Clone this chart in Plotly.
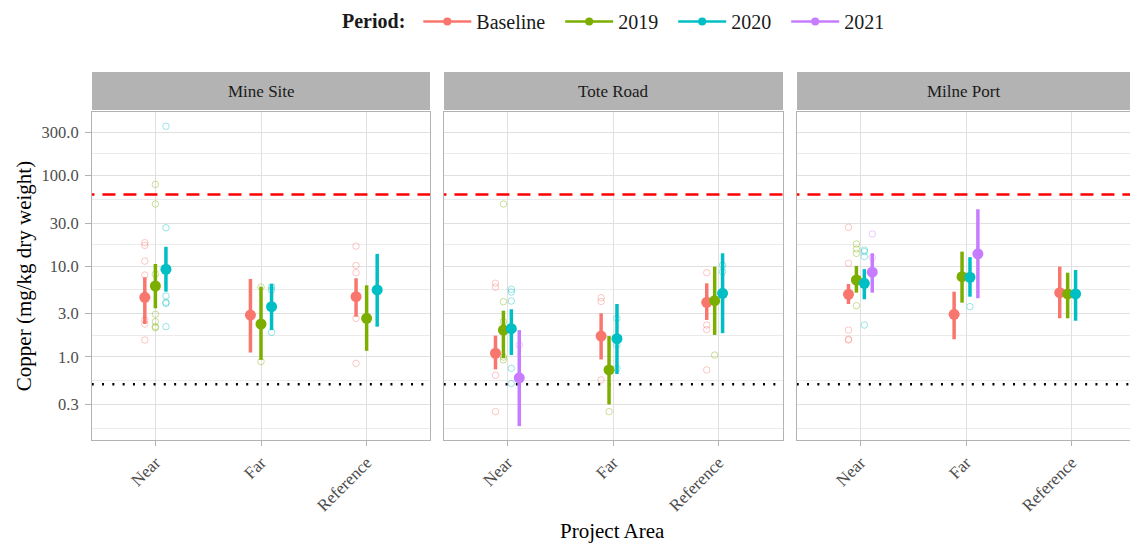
import numpy as np
import plotly.graph_objects as go

# ---- data -------------------------------------------------------------
sites = ["Mine Site", "Tote Road", "Milne Port"]
areas = ["Near", "Far", "Reference"]
periods = ["Baseline", "2019", "2020", "2021"]
period_colors = ["#F8766D", "#7CAE00", "#00BFC4", "#C77CFF"]

# summary (mean with interval) per site / area / period
sum_site = (["Mine Site"] * 9 + ["Tote Road"] * 10 + ["Milne Port"] * 11)
sum_area = (["Near"] * 3 + ["Far"] * 3 + ["Reference"] * 3
            + ["Near"] * 4 + ["Far"] * 3 + ["Reference"] * 3
            + ["Near"] * 4 + ["Far"] * 4 + ["Reference"] * 3)
sum_period = (["Baseline", "2019", "2020"] * 3
              + ["Baseline", "2019", "2020", "2021"] + ["Baseline", "2019", "2020"] * 2
              + ["Baseline", "2019", "2020", "2021"] * 2 + ["Baseline", "2019", "2020"])
sum_mean = [4.55, 6.06, 9.27, 2.90, 2.31, 3.59, 4.62, 2.67, 5.48,
            1.10, 1.98, 2.05, 0.59, 1.70, 0.72, 1.59, 4.01, 4.18, 5.04,
            4.91, 7.06, 6.49, 8.60, 2.95, 7.69, 7.57, 13.7, 5.12, 4.95, 4.95]
sum_lower = [2.31, 3.44, 5.25, 1.12, 0.93, 1.98, 2.78, 1.17, 2.16,
             0.73, 0.97, 1.05, 0.173, 0.94, 0.30, 0.65, 2.56, 1.75, 1.83,
             3.84, 5.12, 4.33, 5.12, 1.57, 3.97, 4.62, 4.44, 2.67, 2.67, 2.51]
sum_upper = [7.57, 10.6, 16.4, 7.25, 5.96, 6.38, 7.38, 6.17, 13.7,
             1.72, 3.24, 3.36, 1.98, 3.03, 1.70, 3.84, 6.49, 9.9, 13.9,
             6.38, 10.1, 9.3, 13.9, 5.25, 14.5, 12.6, 42.5, 9.9, 8.5, 9.1]

# individual samples
raw_site = (["Mine Site"] * 30 + ["Tote Road"] * 30 + ["Milne Port"] * 18)
raw_area = (["Near"] * 20 + ["Far"] * 5 + ["Reference"] * 5
            + ["Near"] * 15 + ["Far"] * 8 + ["Reference"] * 7
            + ["Near"] * 15 + ["Far"] * 2 + ["Reference"] * 1)
raw_period = (["Baseline"] * 7 + ["2019"] * 7 + ["2020"] * 6
              + ["2019"] * 2 + ["2020"] * 3
              + ["Baseline"] * 5
              + ["Baseline"] * 4 + ["2019"] * 5 + ["2020"] * 5 + ["2021"] * 1
              + ["Baseline"] * 3 + ["2019"] * 2 + ["2020"] * 3
              + ["Baseline"] * 4 + ["2019"] * 1 + ["2020"] * 2
              + ["Baseline"] * 4 + ["2019"] * 4 + ["2020"] * 3 + ["2021"] * 2
              + ["Baseline"] * 1 + ["2020"] * 1
              + ["2020"] * 1)
raw_value = ([18.2, 17.0, 11.4, 8.0, 2.56, 2.31, 1.54],
             [80, 48.6, 8.2, 2.96, 2.45, 2.16, 2.10],
             [350, 26.6, 4.7, 4.0, 3.9, 2.16],
             [0.89, 5.9],
             [5.96, 5.5, 1.87],
             [16.7, 10.2, 8.5, 2.67, 0.85],
             [6.5, 5.9, 0.63, 0.25],
             [48.6, 4.07, 2.45, 1.0, 0.93],
             [5.57, 5.2, 4.14, 0.75, 0.51],
             [1.36],
             [4.5, 4.1, 0.56],
             [0.72, 0.25],
             [2.67, 1.36, 0.75],
             [8.5, 2.25, 2.0, 0.72],
             [1.05],
             [10.3, 8.7],
             [26.9, 10.8, 1.98, 1.54],
             [17.6, 15.5, 13.9, 3.68],
             [14.5, 12.8, 2.25],
             [22.7, 12.5],
             [1.57],
             [15.1],
             [3.59])
raw_value = [v for grp in raw_value for v in grp]

guideline = 62.0        # sediment quality guideline
detection_limit = 0.5   # laboratory detection limit

y_ticks = [0.3, 1, 3, 10, 30, 100, 300]
y_ticktext = ["0.3", "1.0", "3.0", "10.0", "30.0", "100.0", "300.0"]

# ---- layout helpers ---------------------------------------------------
FONT = "Liberation Serif"
W, H = 1130, 546
ML, MR, MT, MB = 92, 0, 112, 106
PW = W - ML - MR
PH = H - MT - MB
panel_px = [(92, 430), (444, 783), (797, 1130)]
unit_px = 338 / 3.2
DODGE = 0.3
Y_RANGE = [np.log10(0.1216), np.log10(502)]
NBSP = "\u00a0"

fig = go.Figure()

axis_names = ["x", "x2", "x3"]


def dodge_x(site, area, period):
    present = [p for p in periods
               if any(s == site and pr == p for s, pr in zip(sum_site, sum_period))]
    n = len(present)
    idx = present.index(period) + 1
    base = areas.index(area) + 1
    return base + DODGE * ((idx - 0.5) / n - 0.5)


# reference lines
for k, site in enumerate(sites):
    xa = axis_names[k]
    fig.add_trace(go.Scatter(x=[0.3, 3.7], y=[guideline, guideline], mode="lines",
                             line=dict(color="#FF0000", width=2.5, dash="13px,8px"),
                             xaxis=xa, yaxis="y", showlegend=False, hoverinfo="skip"))
    fig.add_trace(go.Scatter(x=[0.3, 3.7], y=[detection_limit, detection_limit], mode="lines",
                             line=dict(color="#000000", width=2.6, dash="2px,8.3px"),
                             xaxis=xa, yaxis="y", showlegend=False, hoverinfo="skip"))

# raw samples
for k, site in enumerate(sites):
    for p, col in zip(periods, period_colors):
        xs, ys = [], []
        for s, a, pr, v in zip(raw_site, raw_area, raw_period, raw_value):
            if s == site and pr == p:
                xs.append(dodge_x(site, a, p))
                ys.append(v)
        if xs:
            fig.add_trace(go.Scatter(x=xs, y=ys, mode="markers",
                                     marker=dict(symbol="circle-open", size=6.5, color=col,
                                                 opacity=0.4, line=dict(width=1)),
                                     xaxis=axis_names[k], yaxis="y",
                                     showlegend=False, hoverinfo="skip"))

# means with intervals
for k, site in enumerate(sites):
    for p, col in zip(periods, period_colors):
        xs, ys, up, dn = [], [], [], []
        for s, a, pr, m, lo, hi in zip(sum_site, sum_area, sum_period, sum_mean, sum_lower, sum_upper):
            if s == site and pr == p:
                xs.append(dodge_x(site, a, p))
                ys.append(m)
                up.append(hi - m)
                dn.append(m - lo)
        if xs:
            fig.add_trace(go.Scatter(x=xs, y=ys, mode="markers",
                                     marker=dict(symbol="circle", size=11, color=col),
                                     error_y=dict(type="data", symmetric=False, array=up,
                                                  arrayminus=dn, color=col, thickness=3.5,
                                                  width=0),
                                     xaxis=axis_names[k], yaxis="y",
                                     showlegend=False, name=p))

# legend keys
for p, col in zip(periods, period_colors):
    fig.add_trace(go.Scatter(x=[None], y=[None], mode="lines+markers",
                             name=p + NBSP * 2,
                             line=dict(color=col, width=2.5),
                             marker=dict(color=col, size=8),
                             xaxis="x", yaxis="y", showlegend=True))

grid = "#E0E0E0"
border = "#B3B3B3"
tick_font = dict(family=FONT, size=16.5, color="#4D4D4D")

minor_vals = [0.164, 0.548, 1.732, 5.477, 17.32, 54.77, 173.2]

layout = dict(
    width=W, height=H,
    margin=dict(l=ML, r=MR, t=MT, b=MB),
    paper_bgcolor="white", plot_bgcolor="white",
    font=dict(family=FONT, color="#000000"),
    showlegend=True,
    legend=dict(orientation="h", x=(620 - ML) / PW, xanchor="center",
                y=1 + (MT - 2) / PH, yanchor="top",
                title=dict(text="<b>Period:</b>" + NBSP, font=dict(family=FONT, size=20)),
                font=dict(family=FONT, size=20, color="#1A1A1A"),
                itemwidth=48, bgcolor="rgba(0,0,0,0)"),
    yaxis=dict(type="log", range=Y_RANGE,
               tickvals=y_ticks, ticktext=y_ticktext, tickfont=tick_font,
               ticks="outside", ticklen=6, tickcolor=border, ticklabelstandoff=3,
               showgrid=True, gridcolor=grid, gridwidth=1,
               minor=dict(tickvals=minor_vals, showgrid=True, gridcolor="#EBEBEB",
                          gridwidth=0.7, ticks=""),
               showline=True, linecolor=border, linewidth=1, mirror=True,
               zeroline=False,
               title=dict(text="Copper (mg/kg dry weight)",
                          font=dict(family=FONT, size=21, color="#000000"), standoff=4),
               domain=[0, 1], anchor="x"),
)

annotations = []
shapes = []
for k, site in enumerate(sites):
    x0, x1 = panel_px[k]
    dom = [(x0 - ML) / PW, (x1 - ML) / PW]
    rng_hi = 0.4 + (x1 - x0) / unit_px
    key = "xaxis" if k == 0 else f"xaxis{k + 1}"
    layout[key] = dict(domain=dom, range=[0.4, rng_hi], anchor="y",
                       tickvals=[1, 2, 3], ticktext=areas, tickangle=-45,
                       tickfont=dict(family=FONT, size=17, color="#4D4D4D"),
                       ticks="outside", ticklen=5, tickcolor=border,
                       showgrid=True, gridcolor=grid, gridwidth=1,
                       showline=True, linecolor=border, linewidth=1, mirror=True,
                       zeroline=False)
    xref = axis_names[k] + " domain"
    shapes.append(dict(type="rect", xref=xref, yref="paper",
                       x0=0, x1=1, y0=1 + 2 / PH, y1=1 + 40 / PH,
                       fillcolor="#B3B3B3", line=dict(width=0), layer="below"))
    annotations.append(dict(text=site, xref=xref, yref="paper",
                            x=0.5, y=1 + 21 / PH, yanchor="middle", showarrow=False,
                            font=dict(family=FONT, size=17, color="#1A1A1A")))

annotations.append(dict(text="Project Area", xref="paper", yref="paper",
                        x=(612 - ML) / PW, y=-(531 - (MT + PH)) / PH, yanchor="middle",
                        showarrow=False,
                        font=dict(family=FONT, size=21, color="#000000")))

fig.update_layout(**layout)
fig.update_layout(shapes=shapes, annotations=annotations)

# vertical borders for panels 2 and 3 (the shared y axis only frames panel 1)
for k in (1, 2):
    yname = f"yaxis{k + 3}"
    fig.update_layout(**{yname: dict(type="log", range=Y_RANGE,
                                     overlaying="y", anchor=axis_names[k],
                                     showticklabels=False, showgrid=False,
                                     showline=True, linecolor=border, linewidth=1,
                                     mirror=True, ticks="", zeroline=False)})
    fig.add_trace(go.Scatter(x=[None], y=[None], xaxis=axis_names[k], yaxis=f"y{k + 3}",
                             showlegend=False, hoverinfo="skip"))

fig.write_html("out.html")
